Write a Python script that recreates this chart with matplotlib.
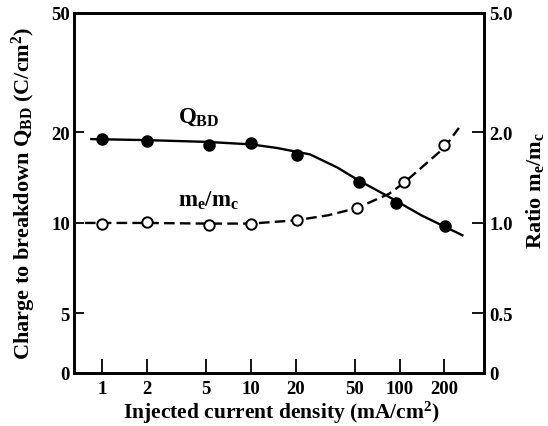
import matplotlib
matplotlib.use('Agg')
import matplotlib.pyplot as plt
from matplotlib.ticker import NullLocator

plt.rcParams['font.family'] = ['Liberation Serif', 'DejaVu Serif']
plt.rcParams['font.weight'] = 'bold'
plt.rcParams['axes.labelweight'] = 'bold'
plt.rcParams['mathtext.fontset'] = 'custom'
plt.rcParams['mathtext.rm'] = 'Liberation Serif:bold'
plt.rcParams['mathtext.it'] = 'Liberation Serif:bold'
plt.rcParams['mathtext.bf'] = 'Liberation Serif:bold'

# 資料
qbd_x = [1.0, 2.0, 5.25, 10.0, 20.4, 53.0, 95.0, 203.0]
qbd_y = [19.05, 18.7, 18.1, 18.45, 16.8, 13.7, 11.65, 9.8]

ratio_x = [1.0, 2.0, 5.25, 10.0, 20.4, 51.5, 107.0, 200.0]
ratio_y = [0.992, 1.01, 0.985, 0.992, 1.026, 1.12, 1.37, 1.81]

# hand drawn curves through the points
qbd_curve_x = [0.85, 2.0, 5.0, 10.0, 15.0, 25.0, 38.0, 53.0, 85.0, 140.0, 264.0]
qbd_curve_y = [19.0, 18.85, 18.6, 18.25, 17.75, 16.9, 15.3, 13.85, 12.2, 10.6, 9.1]

ratio_curve_x = [0.77, 1.0, 2.0, 5.0, 10.0, 20.0, 33.0, 51.5, 85.0, 107.0, 200.0, 250.0]
ratio_curve_y = [1.0, 1.0, 1.0, 0.995, 0.995, 1.02, 1.06, 1.12, 1.25, 1.36, 1.78, 2.07]

x_ticks = [1, 2, 5, 10, 20, 50, 100, 200]
left_bottom = 3.18
left_ticks = [left_bottom, 5, 10, 20, 50]
left_labels = ['0', '5', '10', '20', '50']
right_ticks = [left_bottom / 10, 0.5, 1.0, 2.0, 5.0]
right_labels = ['0', '0.5', '1.0', '2.0', '5.0']

fig = plt.figure(figsize=(5.48, 4.27), dpi=100)
ax = fig.add_axes([0.135, 0.125, 0.748, 0.843])
ax2 = ax.twinx()

ax.plot(qbd_curve_x, qbd_curve_y, color='black', lw=1.7, zorder=2)
ax.plot(qbd_x, qbd_y, 'o', color='black', ms=8, zorder=3)

ax2.plot(ratio_curve_x, ratio_curve_y, color='black', lw=1.7, dashes=(4.5, 2.2), zorder=2)
ax2.plot(ratio_x, ratio_y, 'o', mfc='white', mec='black', mew=1.4, ms=7.5, zorder=3)

for a in (ax, ax2):
    a.set_xscale('log')
    a.set_yscale('log')
    a.set_xlim(0.65, 368)
    for s in a.spines.values():
        s.set_linewidth(1.9)

ax.set_ylim(left_bottom, 50)
ax2.set_ylim(left_bottom / 10, 5.0)

ax.set_xticks(x_ticks)
ax.set_xticklabels([str(t) for t in x_ticks])
ax.xaxis.set_minor_locator(NullLocator())
ax.set_yticks(left_ticks)
ax.set_yticklabels(left_labels)
ax.yaxis.set_minor_locator(NullLocator())
ax2.set_yticks(right_ticks)
ax2.set_yticklabels(right_labels)
ax2.yaxis.set_minor_locator(NullLocator())

ax.tick_params(axis='x', direction='in', length=10, width=1.3, labelsize=13.5, pad=5)
ax.tick_params(axis='y', direction='in', length=7, width=1.3, labelsize=13.5, pad=3)
ax2.tick_params(axis='y', direction='in', length=9, width=1.3, labelsize=13.5, pad=4)

ax.set_xlabel('Injected current density (mA/cm$^2$)', fontsize=15.5)
ax.xaxis.label.set_va('center')
ax.xaxis.set_label_coords(0.507, -0.108)
ax.set_ylabel('Charge to breakdown Q$_{\\mathrm{BD}}$ (C/cm$^2$)', fontsize=16)
ax.yaxis.label.set_va('center')
ax.yaxis.set_label_coords(-0.121, 0.5)
ax2.set_ylabel('Ratio m$_\\mathrm{e}$/m$_\\mathrm{c}$', fontsize=16)
ax2.yaxis.label.set_va('center')
ax2.yaxis.set_label_coords(1.125, 0.51)

ax.text(4.5, 22.7, 'Q$_{\\mathrm{BD}}$', fontsize=16.5, ha='center', va='center')
ax.text(5.25, 11.9, 'm$_\\mathrm{e}$/m$_\\mathrm{c}$', fontsize=16.5, ha='center', va='center')

plt.savefig('out.png', dpi=100)
